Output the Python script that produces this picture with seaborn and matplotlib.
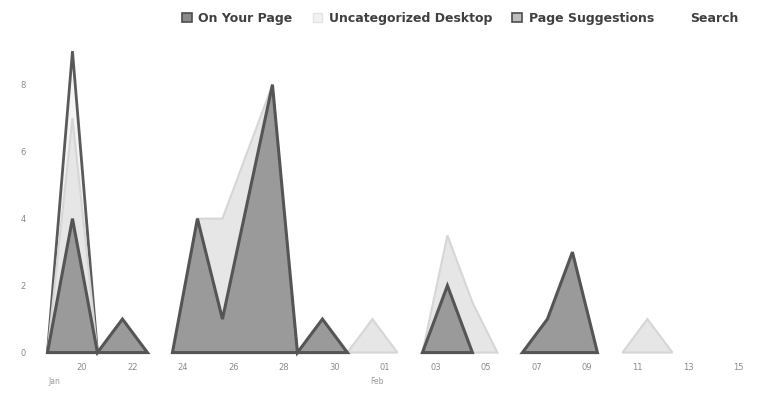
import numpy as np
import matplotlib
matplotlib.use('Agg')
import matplotlib.pyplot as plt
from matplotlib.patches import Patch
import seaborn as sns

# Values read from the (scanned) reference, one point per half-label step
n_points = 29
on_your_page = [0, 4, 0, 1, 0, 0, 4, 1, 4.5, 8, 0, 1, 0, None, None,
                0, 2, 0, None, 0, 1, 3, 0, None, None, None, None, None, None]
uncategorized = [0, 7, 0, None, None, 0, 4, 4, 6, 8, 0, None, 0, 1, 0,
                 0, 3.5, 1.5, 0, None, None, None, None, 0, 1, 0, None, None, None]
page_suggestions = [0, 9, 0] + [None] * 26
search = [None] * 29

day_labels = ['20', '22', '24', '26', '28', '30', '01', '03', '05', '07', '09', '11', '13', '15']
month_labels = ['Jan', 'Feb']
y_ticks = [0, 2, 4, 6, 8]


def as_array(values):
    return np.array([np.nan if v is None else v for v in values], dtype=float)


def segments(y):
    """Split a series into peaks, dropping flat runs along zero and gaps."""
    runs, cur = [], []
    for i, v in enumerate(y):
        if np.isnan(v):
            if len(cur) > 1:
                runs.append(cur)
            cur = []
            continue
        if cur and v == 0 and y[cur[-1]] == 0:
            if len(cur) > 1:
                runs.append(cur)
            cur = []
        cur.append(i)
    if len(cur) > 1:
        runs.append(cur)
    return runs


sns.set_theme(style='white')
plt.rcParams['font.family'] = ['DejaVu Sans']

fig = plt.figure(figsize=(7.7, 3.99), dpi=100)
ax = fig.add_axes([0.048, 0.105, 0.935, 0.81])
x = np.arange(n_points)

series = [
    ('Page Suggestions', page_suggestions, '#f4f4f4', '#5a5a5a', 2.0),
    ('Uncategorized Desktop', uncategorized, '#e6e6e6', '#d6d6d6', 1.5),
    ('On Your Page', on_your_page, '#9a9a9a', '#555555', 2.2),
    ('Search', search, '#ffffff', '#ffffff', 1.0),
]
for name, vals, fill, edge, lw in series:
    y = as_array(vals)
    for run in segments(y):
        ax.fill_between(x[run], 0, y[run], facecolor=fill, edgecolor=edge, linewidth=lw,
                        joinstyle='miter')

ax.set_xlim(-0.4, 28.4)
ax.set_ylim(-0.15, 9.5)
ax.set_yticks(y_ticks)
ax.set_yticklabels([str(t) for t in y_ticks], color='#8a8a8a', fontsize=6)
ax.set_xticks(1.4 + 2.02 * np.arange(len(day_labels)))
ax.set_xticklabels(day_labels, color='#8a8a8a', fontsize=6)
ax.tick_params(axis='y', pad=8, length=0)
ax.tick_params(axis='x', pad=4, length=0)
for pos, lab in zip([0.3, 13.2], month_labels):
    ax.text(pos, -0.75, lab, transform=ax.transData, color='#9a9a9a', fontsize=5.5,
            ha='center', va='top')
sns.despine(ax=ax, left=True, bottom=True)

handles = [Patch(facecolor='#8a8a8a', edgecolor='#4d4d4d', linewidth=1.2),
           Patch(facecolor='#f2f2f2', edgecolor='#e4e4e4', linewidth=1.0),
           Patch(facecolor='#bdbdbd', edgecolor='#4d4d4d', linewidth=1.2),
           Patch(facecolor='#ffffff', edgecolor='#ffffff', linewidth=1.0)]
labels = ['On Your Page', 'Uncategorized Desktop', 'Page Suggestions', 'Search']
leg = fig.legend(handles, labels, loc='center left', bbox_to_anchor=(0.222, 0.953), ncol=4,
                 frameon=False, handlelength=0.75, handleheight=0.75, handletextpad=0.55,
                 columnspacing=1.6, prop={'size': 9, 'weight': 'bold'})
for t in leg.get_texts():
    t.set_color('#404040')

fig.savefig('out.png', dpi=100)
